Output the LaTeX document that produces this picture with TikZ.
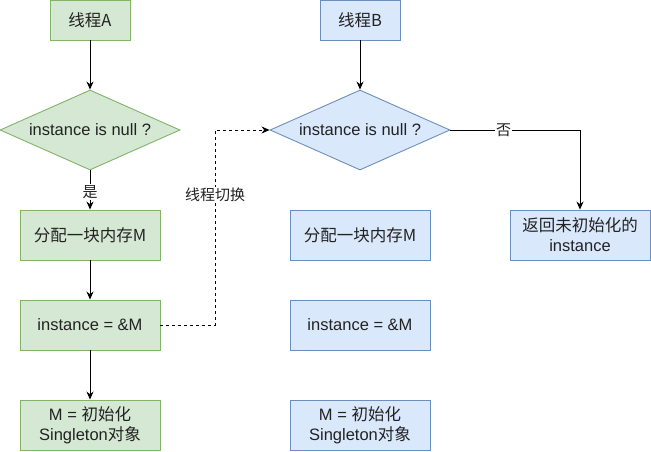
\documentclass[tikz,border=0pt]{standalone}
\usepackage{fontspec}
\setmainfont{Liberation Sans}
\newfontfamily\cjk{Noto Sans CJK SC}
\usetikzlibrary{shapes.geometric,arrows.meta}
\definecolor{gfill}{HTML}{D5E8D4}
\definecolor{gline}{HTML}{82B366}
\definecolor{bfill}{HTML}{DAE8FC}
\definecolor{bline}{HTML}{6C8EBF}
\definecolor{txt}{HTML}{222222}
\tikzset{
  x=1pt, y=-1pt,
  every node/.style={font=\fontsize{16.5}{20}\selectfont, text=txt},
  gbox/.style={draw=gline, fill=gfill, line width=0.9pt, minimum width=140, minimum height=50, inner sep=0, align=center},
  bbox/.style={draw=bline, fill=bfill, line width=0.9pt, minimum width=140, minimum height=50, inner sep=0, align=center},
  gdia/.style={diamond, shape aspect=2.25, draw=gline, fill=gfill, line width=0.9pt, minimum width=180, minimum height=80, inner sep=0},
  bdia/.style={diamond, shape aspect=2.25, draw=bline, fill=bfill, line width=0.9pt, minimum width=180, minimum height=80, inner sep=0},
  arr/.style={-{Stealth[length=8pt,width=7pt]}, line width=0.9pt, black},
  lbl/.style={fill=white, inner sep=1pt, font=\cjk\fontsize{15}{18}\selectfont},
}
\begin{document}
\begin{tikzpicture}
\useasboundingbox (0,0) rectangle (651,451);
% thread A
\node[gbox, minimum width=80, minimum height=40] (ta) at (90,20) {\cjk 线程A};
\node[gdia] (da) at (90,130) {instance is null ?};
\node[gbox] (a1) at (90,235) {\cjk 分配一块内存M};
\node[gbox] (a2) at (90,325) {instance = \&M};
\node[gbox] (a3) at (90,425) {M = {\cjk 初始化}\\Singleton{\cjk 对象}};
% thread B
\node[bbox, minimum width=80, minimum height=40] (tb) at (360,20) {\cjk 线程B};
\node[bdia] (db) at (360,130) {instance is null ?};
\node[bbox] (b1) at (360,235) {\cjk 分配一块内存M};
\node[bbox] (b2) at (360,325) {instance = \&M};
\node[bbox] (b3) at (360,425) {M = {\cjk 初始化}\\Singleton{\cjk 对象}};
\node[bbox] (r) at (580,235) {{\cjk 返回未初始化的}\\instance};
% connectors
\draw[arr] (ta) -- (da);
\draw[arr] (da) -- node[lbl, pos=0.55] {是} (a1);
\draw[arr] (a1) -- (a2);
\draw[arr] (a2) -- (a3);
\draw[arr] (tb) -- (db);
\draw[arr] (db.east) -- node[lbl, pos=0.41] {否} (580,130) -- (r.north);
\coordinate (sw1) at (215,325);
\coordinate (sw2) at (215,130);
\draw[arr, dashed, line width=0.8pt, dash pattern=on 3pt off 3pt] (a2.east) -- (sw1) -- node[lbl, pos=0.667] {线程切换} (sw2) -- (db.west);
\end{tikzpicture}
\end{document}
